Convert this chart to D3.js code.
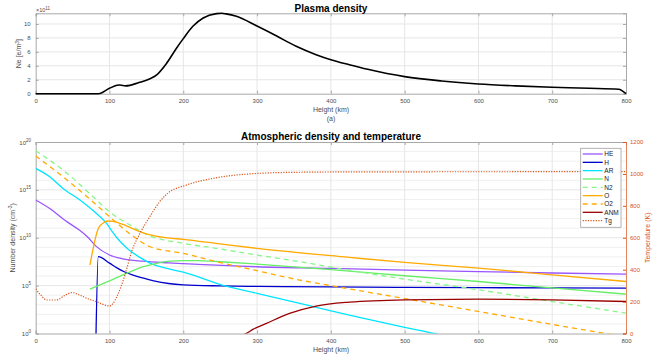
<!DOCTYPE html>
<html>
<head>
<meta charset="utf-8">
<script src="https://cdn.jsdelivr.net/npm/d3@7"></script>
<style>
  body { margin: 0; background: #fff; }
  text { font-family: "Liberation Sans", Arial, sans-serif; }
</style>
</head>
<body>
<script>
// ---- (a) plasma density, values in 1e11 e/m^3 ----
const neHeight = [0, 85, 100, 110, 114, 122, 140, 155, 164, 177, 191, 200, 213, 227, 245, 252, 258, 272, 300, 326, 353, 380, 400, 425, 450, 500, 550, 600, 650, 700, 750, 790, 800];
const neValue  = [0, 0, 0.77, 1.2, 1.25, 1.12, 1.6, 2.15, 2.7, 4.3, 6.56, 7.9, 9.67, 10.86, 11.48, 11.53, 11.45, 11.1, 9.7, 8.3, 6.8, 5.6, 4.88, 4.16, 3.5, 2.45, 1.82, 1.39, 1.12, 0.92, 0.78, 0.63, 0];

// ---- atmospheric number densities, log10(cm^-3) ----
const heHeight = [0, 20, 40, 60, 70, 82, 100, 118, 145, 180, 200, 300, 400, 500, 600, 700, 800];
const heLog    = [13.94, 13.0, 11.8, 10.75, 10.1, 9.1, 8.2, 7.8, 7.55, 7.38, 7.3, 6.97, 6.8, 6.62, 6.46, 6.32, 6.2];

const hHeight = [81.5, 84.8, 100, 110, 120, 132, 145, 160, 180, 200, 250, 300, 400, 500, 600, 700, 800];
const hLog    = [-1, 8.02, 7.35, 6.85, 6.45, 6.1, 5.8, 5.5, 5.22, 5.08, 4.97, 4.92, 4.86, 4.82, 4.79, 4.76, 4.74];

const arHeight = [0, 19, 37, 60, 82, 96, 105, 110, 123, 140, 155, 175, 200, 258, 300, 371, 425, 500, 540, 560];
const arLog    = [17.24, 16.37, 15.15, 13.94, 12.55, 11.5, 10.5, 10.0, 8.95, 8.0, 7.35, 6.85, 6.4, 4.95, 4.2, 2.9, 1.93, 0.65, 0, -0.35];

const nHeight = [73.5, 100, 123, 145, 164, 182, 200, 220, 245, 300, 400, 500, 600, 700, 800];
const nLog    = [4.64, 5.5, 6.28, 6.95, 7.33, 7.55, 7.62, 7.62, 7.52, 7.25, 6.68, 6.03, 5.43, 4.76, 4.11];

const n2Height = [0, 37, 82.5, 100, 128, 150, 200, 245, 300, 358, 425, 500, 600, 700, 800];
const n2Log    = [19.08, 17.07, 13.94, 12.71, 11.33, 10.35, 9.42, 8.89, 8.19, 7.5, 6.6, 5.68, 4.57, 3.34, 2.13];

const oHeight = [73.5, 85, 90, 97, 105, 118, 141, 155, 175, 200, 250, 300, 425, 500, 600, 700, 800];
const oLog    = [7.15, 11.0, 11.45, 11.75, 11.7, 11.4, 10.65, 10.3, 10.02, 9.83, 9.35, 8.89, 7.95, 7.42, 6.83, 6.13, 5.43];

const o2Height = [0, 37, 82.5, 100, 128, 155, 200, 245, 300, 358, 400, 500, 600, 700, 800];
const o2Log    = [18.53, 16.37, 13.41, 12.2, 10.4, 9.06, 8.37, 7.5, 6.56, 5.58, 5.0, 3.65, 2.3, 0.95, -0.35];

const anmHeight = [280, 285.7, 295, 312.7, 344, 380, 425, 500, 600, 700, 800];
const anmLog    = [-0.2, 0.02, 0.45, 1.06, 2.1, 2.87, 3.28, 3.52, 3.59, 3.52, 3.34];

// temperature (K), right axis
const tgHeight = [0, 7, 15, 28, 40, 49, 60, 69, 82.5, 97, 100, 105, 110, 121, 130, 141, 155, 168, 178, 204, 240, 290, 350, 450, 800];
const tgValue  = [279, 240, 210, 210, 240, 256, 240, 221, 199, 174, 172, 190, 231, 367, 513, 625, 735, 826, 875, 930, 972, 1000, 1010, 1013, 1014];

const species = [
  { name: "HE",  h: heHeight,  v: heLog,  color: "#9955ff", dash: null },
  { name: "H",   h: hHeight,   v: hLog,   color: "#0000cc", dash: null },
  { name: "AR",  h: arHeight,  v: arLog,  color: "#00e5ff", dash: null },
  { name: "N",   h: nHeight,   v: nLog,   color: "#66ee66", dash: null },
  { name: "N2",  h: n2Height,  v: n2Log,  color: "#88f588", dash: "5,4" },
  { name: "O",   h: oHeight,   v: oLog,   color: "#ffaa00", dash: null },
  { name: "O2",  h: o2Height,  v: o2Log,  color: "#ffaa00", dash: "5,4" },
  { name: "ANM", h: anmHeight, v: anmLog, color: "#990000", dash: null }
];

const W = 654, H = 356;
const gridCol = "#e6e6e6", boxCol = "#a8a8a8", lblCol = "#4d4d4d", tCol = "#d95319";

const svg = d3.select("body").append("svg").attr("width", W).attr("height", H);

const x = d3.scaleLinear().domain([0, 800]).range([35.7, 626]);
const xTicks = d3.range(0, 801, 100);

// ================= top plot =================
const yTop = d3.scaleLinear().domain([0, 11.53]).range([93.7, 13.3]);
const topG = svg.append("g");

topG.selectAll(".vg").data(xTicks.slice(1, -1)).enter().append("line")
  .attr("x1", d => x(d)).attr("x2", d => x(d)).attr("y1", yTop(0)).attr("y2", yTop(11.53))
  .attr("stroke", gridCol);
topG.selectAll(".hg").data(d3.range(2, 11, 2)).enter().append("line")
  .attr("x1", x(0)).attr("x2", x(800)).attr("y1", d => yTop(d)).attr("y2", d => yTop(d))
  .attr("stroke", gridCol);

topG.append("g").attr("transform", `translate(0,${yTop(0)})`)
  .call(d3.axisBottom(x).tickValues(xTicks).tickSize(-3).tickPadding(5));
topG.append("g").attr("transform", `translate(0,${yTop(11.53)})`)
  .call(d3.axisTop(x).tickValues(xTicks).tickSize(-3).tickFormat(""));
topG.append("g").attr("transform", `translate(${x(0)},0)`)
  .call(d3.axisLeft(yTop).tickValues(d3.range(0, 11, 2)).tickSize(-3).tickPadding(5));
topG.append("g").attr("transform", `translate(${x(800)},0)`)
  .call(d3.axisRight(yTop).tickValues(d3.range(0, 11, 2)).tickSize(-3).tickFormat(""));

topG.append("path")
  .datum(neHeight.map((h, i) => [h, neValue[i]]))
  .attr("fill", "none").attr("stroke", "#000").attr("stroke-width", 1.6)
  .attr("d", d3.line().x(d => x(d[0])).y(d => yTop(d[1])).curve(d3.curveMonotoneX));

topG.append("text").attr("x", 331).attr("y", 11.5).attr("text-anchor", "middle")
  .attr("font-size", 10).attr("font-weight", "bold").text("Plasma density");
const e11 = topG.append("text").attr("x", 36).attr("y", 12).attr("font-size", 5.5).attr("fill", lblCol);
e11.append("tspan").text("×10");
e11.append("tspan").attr("dy", -2.5).attr("font-size", 4.5).text("11");
topG.append("text").attr("x", 331).attr("y", 112).attr("text-anchor", "middle")
  .attr("font-size", 7).attr("fill", lblCol).text("Height (km)");
topG.append("text").attr("x", 331).attr("y", 120.5).attr("text-anchor", "middle")
  .attr("font-size", 7).attr("fill", lblCol).text("(a)");
const neLbl = topG.append("text").attr("transform", `translate(21,${yTop(5.75)}) rotate(-90)`)
  .attr("text-anchor", "middle").attr("font-size", 7).attr("fill", lblCol);
neLbl.append("tspan").text("Ne [e/m");
neLbl.append("tspan").attr("dy", -2.5).attr("font-size", 5).text("3");
neLbl.append("tspan").attr("dy", 2.5).text("]");

// ================= bottom plot =================
const yLog = d3.scaleLog().domain([1, 1e20]).range([333.5, 142]);
const yT = d3.scaleLinear().domain([0, 1200]).range([333.5, 142]);
const botG = svg.append("g");

botG.append("clipPath").attr("id", "clipB").append("rect")
  .attr("x", x(0)).attr("y", yLog(1e20)).attr("width", x(800) - x(0)).attr("height", yLog(1) - yLog(1e20));

const decades = d3.range(1, 20);
botG.selectAll(".mg").data(decades).enter().append("line")
  .attr("x1", x(0)).attr("x2", x(800)).attr("y1", d => yLog(10 ** d)).attr("y2", d => yLog(10 ** d))
  .attr("stroke", d => d % 5 === 0 ? gridCol : "#f0f0f0");
botG.selectAll(".vg").data(xTicks.slice(1, -1)).enter().append("line")
  .attr("x1", d => x(d)).attr("x2", d => x(d)).attr("y1", yLog(1)).attr("y2", yLog(1e20))
  .attr("stroke", gridCol);

botG.append("g").attr("transform", `translate(0,${yLog(1)})`)
  .call(d3.axisBottom(x).tickValues(xTicks).tickSize(-3).tickPadding(5));
botG.append("g").attr("transform", `translate(0,${yLog(1e20)})`)
  .call(d3.axisTop(x).tickValues(xTicks).tickSize(-3).tickFormat(""));

const logTicks = [1, 1e5, 1e10, 1e15, 1e20];
botG.append("g").attr("transform", `translate(${x(0)},0)`)
  .call(d3.axisLeft(yLog).tickValues(logTicks).tickSize(-3).tickFormat(""));
const lt = botG.selectAll(".lt").data(logTicks).enter().append("text")
  .attr("x", 31).attr("y", d => yLog(d) + 2.5).attr("text-anchor", "end")
  .attr("font-size", 6).attr("fill", lblCol);
lt.append("tspan").text("10");
lt.append("tspan").attr("dy", -3).attr("font-size", 4.5).text(d => Math.round(Math.log10(d)));

const ra = botG.append("g").attr("transform", `translate(${x(800)},0)`)
  .call(d3.axisRight(yT).tickValues(d3.range(0, 1201, 200)).tickSize(-3).tickPadding(4).tickFormat(d3.format("d")));
ra.select(".domain").attr("stroke", tCol).attr("stroke-opacity", 0.7);
ra.selectAll(".tick line").attr("stroke", tCol);
ra.selectAll(".tick text").attr("fill", tCol);

const plot = botG.append("g").attr("clip-path", "url(#clipB)");
const speciesLine = d3.line().x(d => x(d[0])).y(d => yLog(10 ** d[1])).curve(d3.curveMonotoneX);
species.forEach(s => {
  plot.append("path")
    .datum(s.h.map((h, i) => [h, s.v[i]]))
    .attr("fill", "none").attr("stroke", s.color).attr("stroke-width", 1.3)
    .attr("stroke-dasharray", s.dash)
    .attr("d", speciesLine);
});
plot.append("path")
  .datum(tgHeight.map((h, i) => [h, tgValue[i]]))
  .attr("fill", "none").attr("stroke", tCol).attr("stroke-width", 1.2)
  .attr("stroke-dasharray", "1.2,1.4")
  .attr("d", d3.line().x(d => x(d[0])).y(d => yT(d[1])).curve(d3.curveMonotoneX));

botG.append("text").attr("x", 331).attr("y", 139.5).attr("text-anchor", "middle")
  .attr("font-size", 10).attr("font-weight", "bold").text("Atmospheric density and temperature");
botG.append("text").attr("x", 331).attr("y", 352).attr("text-anchor", "middle")
  .attr("font-size", 7).attr("fill", lblCol).text("Height (km)");
const ndLbl = botG.append("text").attr("transform", `translate(14.5,${yLog(1e10)}) rotate(-90)`)
  .attr("text-anchor", "middle").attr("font-size", 7).attr("fill", lblCol);
ndLbl.append("tspan").text("Number density (cm");
ndLbl.append("tspan").attr("dy", -2.5).attr("font-size", 5).text("-3");
ndLbl.append("tspan").attr("dy", 2.5).text(")");
botG.append("text").attr("transform", `translate(650,${yT(600)}) rotate(-90)`)
  .attr("text-anchor", "middle").attr("font-size", 7).attr("fill", tCol).text("Temperature (K)");

// legend
const legItems = species.concat([{ name: "Tg", color: tCol, dash: "1.2,1.4" }]);
const leg = botG.append("g");
leg.append("rect").attr("x", 580.7).attr("y", 148.3).attr("width", 40.3).attr("height", 79)
  .attr("fill", "#fff").attr("stroke", "#a0a0a0").attr("stroke-width", 0.8);
legItems.forEach((s, i) => {
  const yy = 154 + i * 8.33;
  leg.append("line").attr("x1", 582.7).attr("x2", 602.7).attr("y1", yy).attr("y2", yy)
    .attr("stroke", s.color).attr("stroke-width", 1.3).attr("stroke-dasharray", s.dash);
  leg.append("text").attr("x", 604.3).attr("y", yy + 2.3).attr("font-size", 6.5).attr("fill", "#222").text(s.name);
});

// axis styling
svg.selectAll(".domain").filter(function () { return this.getAttribute("stroke") === "currentColor"; })
  .attr("stroke", boxCol);
svg.selectAll(".tick line").filter(function () { return this.getAttribute("stroke") === "currentColor"; })
  .attr("stroke", boxCol);
svg.selectAll(".tick text").filter(function () { return this.getAttribute("fill") === "currentColor"; })
  .attr("fill", lblCol);
svg.selectAll(".tick text").attr("font-size", 6).attr("font-family", "Liberation Sans, Arial, sans-serif");
</script>
</body>
</html>
